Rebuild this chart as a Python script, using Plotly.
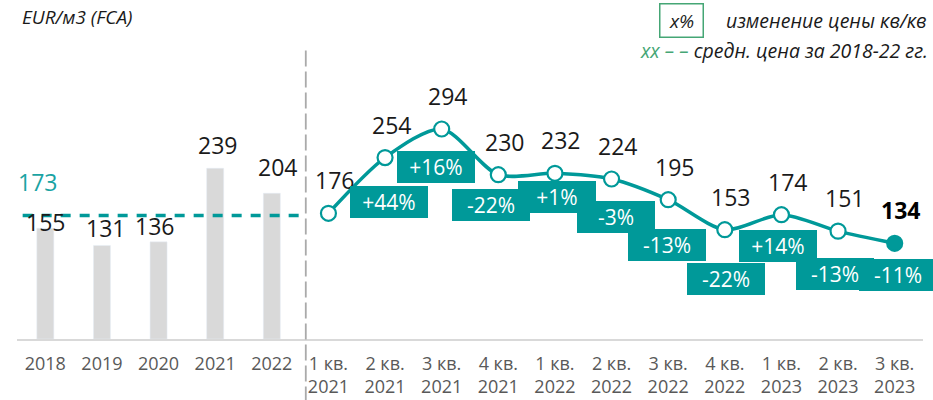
import plotly.graph_objects as go

# ---------------- data ----------------
years = ["2018", "2019", "2020", "2021", "2022"]
year_values = [155, 131, 136, 239, 204]

quarters = ["1 кв.<br>2021", "2 кв.<br>2021", "3 кв.<br>2021", "4 кв.<br>2021",
            "1 кв.<br>2022", "2 кв.<br>2022", "3 кв.<br>2022", "4 кв.<br>2022",
            "1 кв.<br>2023", "2 кв.<br>2023", "3 кв.<br>2023"]
quarter_values = [176, 254, 294, 230, 232, 224, 195, 153, 174, 151, 134]
qoq_changes = ["+44%", "+16%", "-22%", "+1%", "-3%", "-13%", "-22%", "+14%", "-13%", "-11%"]

avg_label = "173"
avg_value = 173

unit_label = "EUR/м3 (FCA)"
legend_box = "x%"
legend_box_text = "изменение цены кв/кв"
legend_avg_mark = "xx – –"
legend_avg_text = "средн. цена за 2018-22 гг."

# ---------------- style ----------------
TEAL = "#009999"
GREEN = "#45a675"
BAR = "#d9d9d9"
TXT = "#1a1a1a"
FONT = "Open Sans"

# label offsets (pixels)
bar_label_dy = [6, 17, 16, 23, 26]
bar_label_dx = [0, 4, -4, 2, 6]
badge_dy = [44, 38, 30, 24, 38, 45, 49, 31, 43, 32]
badge_dx = [4, -6, -7, 2, 4, -1, 1, -3, -3, 3]

categories = years + quarters

fig = go.Figure()

fig.add_trace(go.Bar(
    x=years, y=year_values, marker_color=BAR, width=0.3,
    hoverinfo="skip", showlegend=False,
))

marker_fill = ["white"] * (len(quarter_values) - 1) + [TEAL]
fig.add_trace(go.Scatter(
    x=quarters, y=quarter_values, mode="lines+markers",
    line=dict(color=TEAL, width=3.5, shape="spline", smoothing=0.8),
    marker=dict(size=15, color=marker_fill, line=dict(color=TEAL, width=2.2)),
    hoverinfo="skip", showlegend=False,
))

annotations = []
# bar value labels (category index positions, since year strings look numeric)
for i, v in enumerate(year_values):
    annotations.append(dict(x=categories.index(years[i]), y=v, text=str(v), showarrow=False,
                            yshift=bar_label_dy[i], xshift=bar_label_dx[i],
                            font=dict(size=23, color=TXT, family=FONT)))
# quarter value labels
for i, (c, v) in enumerate(zip(quarters, quarter_values)):
    last = i == len(quarters) - 1
    annotations.append(dict(x=c, y=v, text=f"<b>{v}</b>" if last else str(v),
                            showarrow=False, yshift=33, xshift=6,
                            font=dict(size=23, color="#000000" if last else TXT, family=FONT)))
# change badges
for i, (c, v, t) in enumerate(zip(quarters[1:], quarter_values[1:], qoq_changes)):
    annotations.append(dict(x=c, y=v, text=t, showarrow=False,
                            yshift=-badge_dy[i], xshift=badge_dx[i],
                            bgcolor=TEAL, bordercolor=TEAL, borderpad=2,
                            width=72, height=26,
                            font=dict(size=21, color="white", family=FONT)))
# average label
annotations.append(dict(x=-0.13, y=avg_value, text=avg_label, showarrow=False,
                        yshift=33, font=dict(size=23, color="#1aa3a3", family=FONT)))

# header texts (paper coords)
annotations += [
    dict(xref="paper", yref="paper", x=0.0033, y=1.073, xanchor="left", yanchor="middle",
         text=f"<i>{unit_label}</i>", showarrow=False,
         font=dict(size=19, color=TXT, family=FONT)),
    dict(xref="paper", yref="paper", x=0.7334, y=1.06, xanchor="center", yanchor="middle",
         text=f"<i>{legend_box}</i>", showarrow=False, bordercolor=GREEN, borderwidth=1.5,
         borderpad=3, width=36, font=dict(size=19, color=TXT, family=FONT)),
    dict(xref="paper", yref="paper", x=1.0066, y=1.06, xanchor="right", yanchor="middle",
         text=f"<i>{legend_box_text}</i>", showarrow=False,
         font=dict(size=19.5, color=TXT, family=FONT)),
    dict(xref="paper", yref="paper", x=1.0077, y=0.963, xanchor="right", yanchor="middle",
         text=f"<i><span style='color:{GREEN}'>{legend_avg_mark}</span> {legend_avg_text}</i>",
         showarrow=False, font=dict(size=19.5, color=TXT, family=FONT)),
]

shapes = [
    # average dashed line over yearly bars
    dict(type="line", xref="x", yref="y", x0=-0.4, x1=4.55, y0=avg_value, y1=avg_value,
         line=dict(color=TEAL, width=3.5, dash="10px,9px"), layer="above"),
    # separator between years and quarters
    dict(type="line", xref="paper", yref="paper", x0=(4.6 + 0.5) / 16, x1=(4.6 + 0.5) / 16,
         y0=0.962, y1=-0.21, line=dict(color="#aaaaaa", width=1.8, dash="16px,5px")),
]

fig.update_layout(
    width=933, height=400,
    margin=dict(l=17, r=10, t=39, b=61),
    paper_bgcolor="white", plot_bgcolor="white",
    font=dict(family=FONT, color="#595959"),
    xaxis=dict(type="category", categoryorder="array", categoryarray=categories,
               range=[-0.5, 15.5], showgrid=False, zeroline=False, automargin=False,
               showline=True, linecolor="#d9d9d9", linewidth=2,
               ticks="", ticklabelstandoff=7,
               tickfont=dict(size=18, color="#595959", family=FONT)),
    yaxis=dict(range=[0, 420], visible=False, showgrid=False, zeroline=False,
               automargin=False),
    annotations=annotations,
    shapes=shapes,
    bargap=0.7,
)

fig.write_html("out.html", config={"displayModeBar": False},
               post_script="document.body.style.margin='0';document.body.style.overflow='hidden';")
